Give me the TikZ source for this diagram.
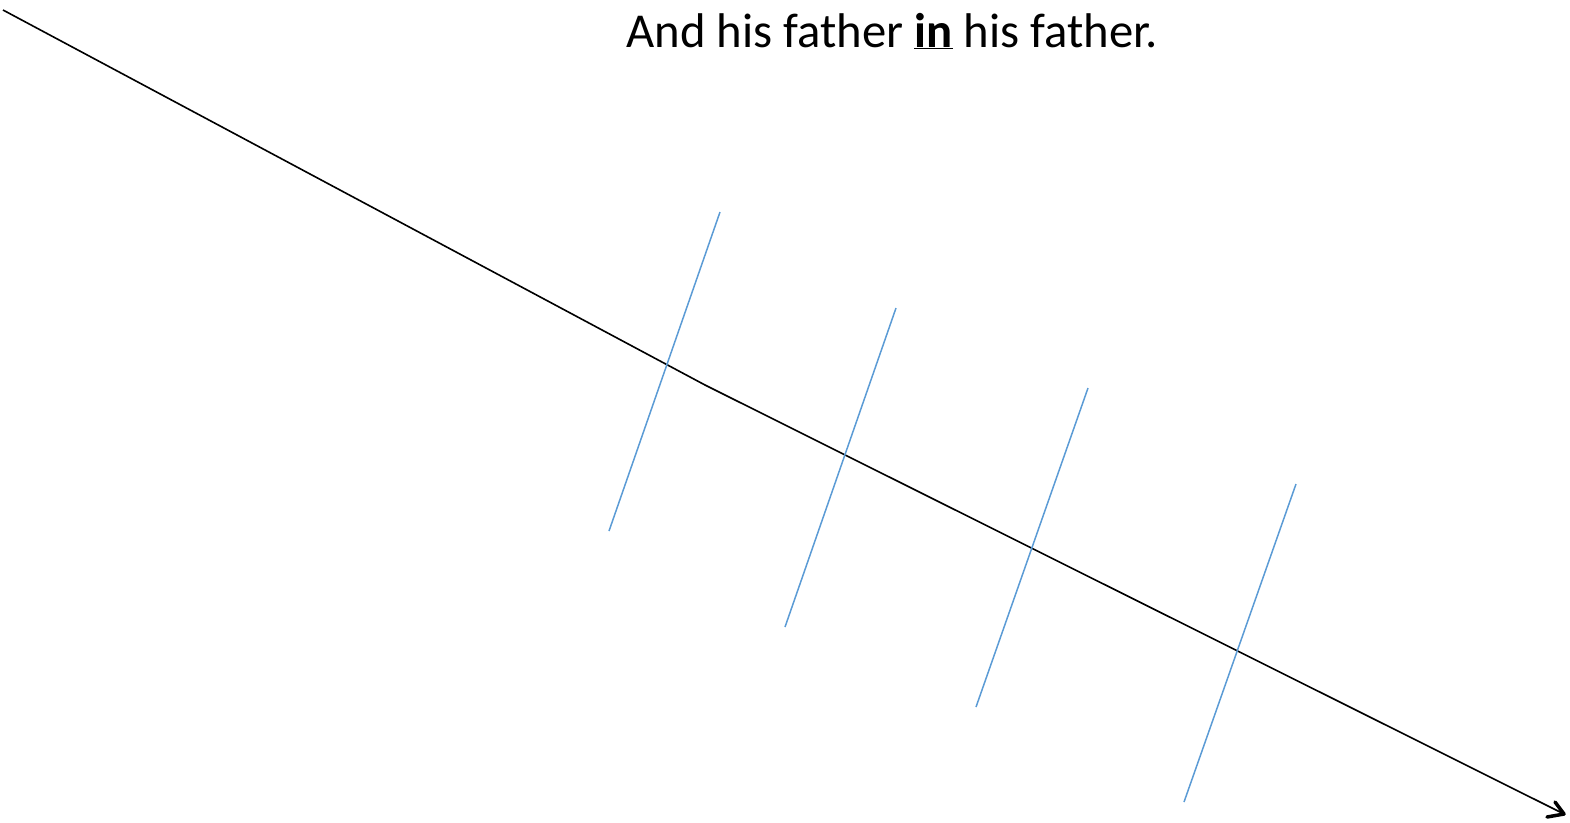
\documentclass[tikz,border=0pt]{standalone}
\usepackage{fontspec}
\setmainfont{Carlito}
\usetikzlibrary{calc}
\definecolor{tickblue}{RGB}{91,155,213}
\begin{document}
\begin{tikzpicture}[x=1pt,y=-1pt,
  mainline/.style={black,line width=1.6pt},
  headline/.style={black,line width=3.5pt,line cap=round,line join=round},
  tick/.style={tickblue,line width=1.5pt}]
\useasboundingbox (0,0) rectangle (1570,822);
\node[font=\fontsize{48.7}{56}\selectfont,anchor=base,inner sep=0] (title) at (892,47) {And his father \textbf{\underline{in}} his father.};
\coordinate (s) at (3,10);
\coordinate (b) at (705,385);
\coordinate (e) at (1564,814);
\draw[mainline] (s) -- (b) -- (e);
\coordinate (h1) at ($(e)+(-9,-12)$);
\coordinate (h2) at ($(e)+(-17,3)$);
\draw[headline] (h1) -- (e) -- (h2);
\coordinate (t1a) at (720,212); \coordinate (t1b) at (609,531);
\coordinate (t2a) at (896,308); \coordinate (t2b) at (785,627);
\coordinate (t3a) at (1088,388); \coordinate (t3b) at (976,707);
\coordinate (t4a) at (1296,484); \coordinate (t4b) at (1184,802);
\draw[tick] (t1a) -- (t1b);
\draw[tick] (t2a) -- (t2b);
\draw[tick] (t3a) -- (t3b);
\draw[tick] (t4a) -- (t4b);
\end{tikzpicture}
\end{document}
